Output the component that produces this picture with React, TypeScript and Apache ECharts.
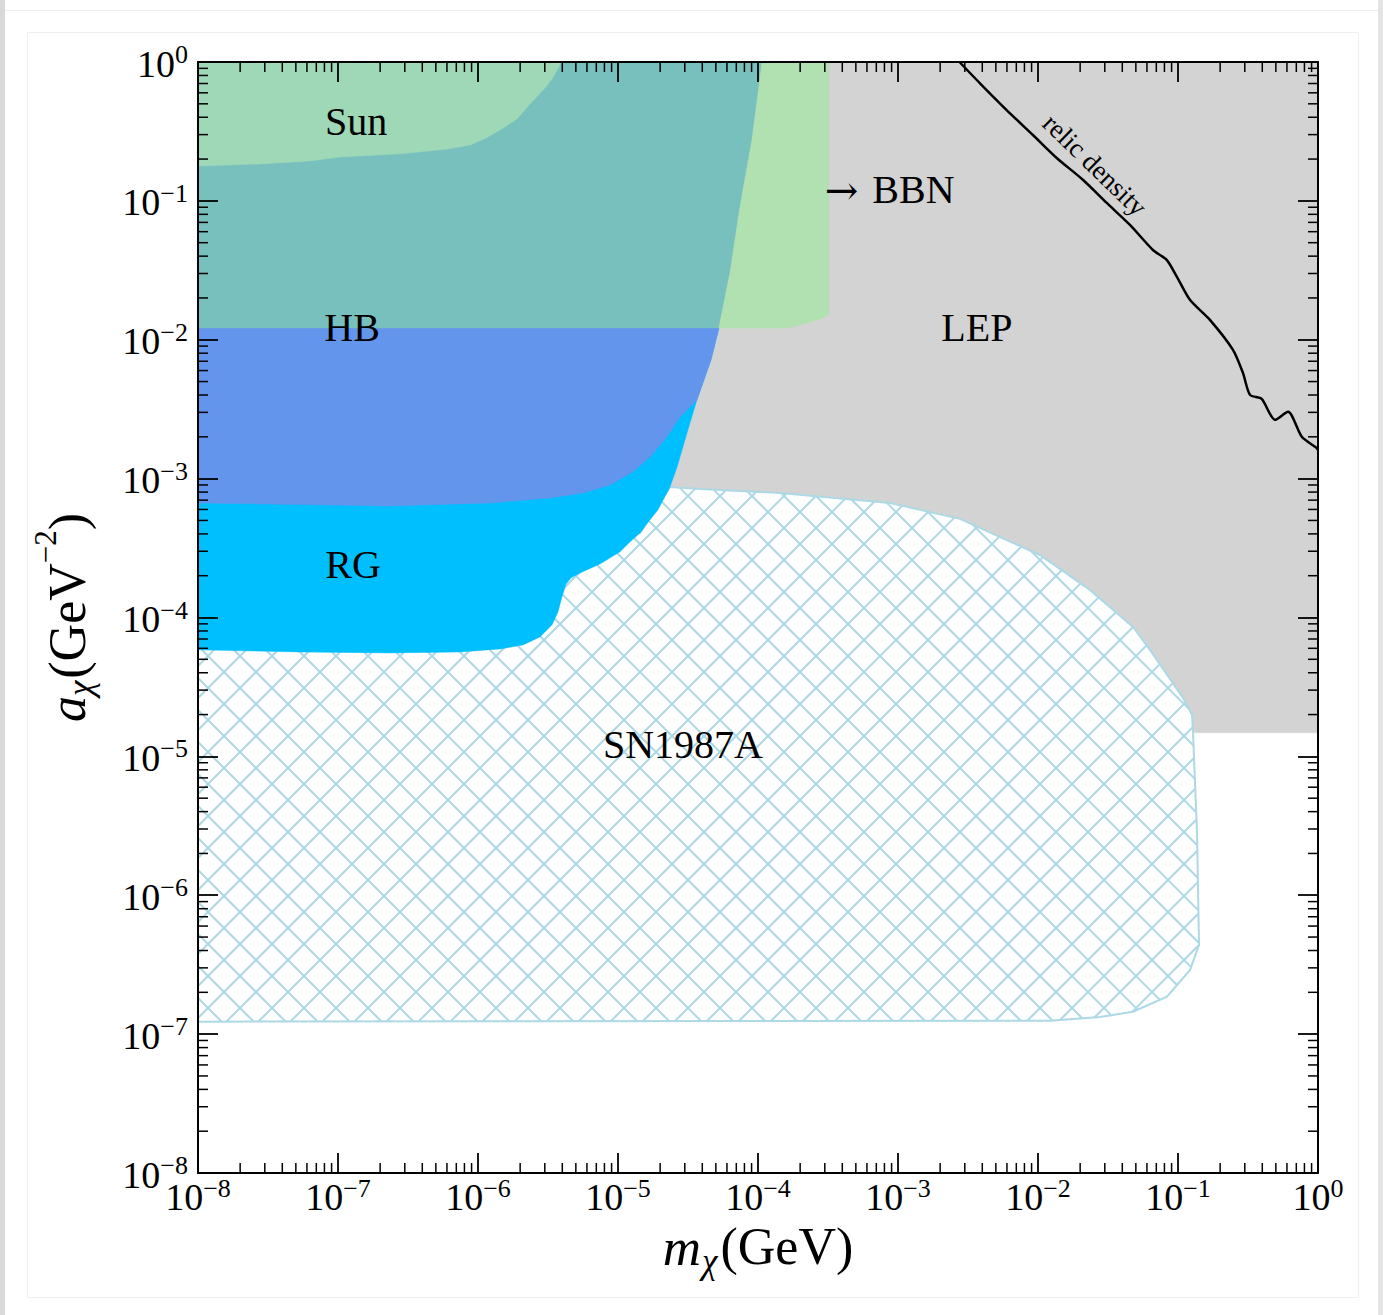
import React, { useEffect, useRef } from "react";
import * as echarts from "echarts";

const FONT = '"Liberation Serif", "DejaVu Serif", serif';

// axis range (log10 decades)
const AXIS_MIN = 1e-8;
const AXIS_MAX = 1;
const minorMultipliers = [2, 3, 4, 5, 6, 7, 8, 9];
const minorDecades = [-8, -7, -6, -5, -4, -3, -2, -1];

// regions: [m_chi (GeV), a_chi (GeV^-2)]
const lepRegion: number[][] = [
  [1.07e-4, 1], [9.06e-5, 0.2745], [7.44e-5, 0.0904], [6.31e-5, 0.0303], [5.26e-5, 0.01216],
  [4.61e-5, 7.16e-3], [3.66e-5, 3.69e-3], [3.11e-5, 2.13e-3], [2.64e-5, 1.21e-3], [2.35e-5, 8.71e-4],
  [2.35e-5, 1.48e-5], [1, 1.48e-5], [1, 1],
];

const snRegion: number[][] = [
  [1e-8, 2.6e-4], [3.85e-6, 2.6e-4], [1.44e-5, 4.07e-4], [2.35e-5, 8.71e-4], [3.85e-5, 8.43e-4],
  [1.44e-4, 7.88e-4], [8.77e-4, 6.68e-4], [2.77e-3, 5.13e-4], [1.03e-2, 2.82e-4], [2.35e-2, 1.58e-4],
  [4.77e-2, 8.55e-5], [6.31e-2, 5.85e-5], [0.1086, 2.64e-5], [0.126, 1.99e-5], [0.128, 1.48e-5],
  [0.1367, 2.81e-6], [0.1413, 4.39e-7], [0.122, 2.9e-7], [0.0834, 1.86e-7], [0.0477, 1.45e-7],
  [0.0277, 1.33e-7], [0.0122, 1.25e-7], [1e-8, 1.23e-7],
];

const rgRegion: number[][] = [
  [1e-8, 0.01216], [5.26e-5, 0.01216], [4.61e-5, 7.16e-3], [3.66e-5, 3.69e-3], [3.11e-5, 2.13e-3],
  [2.64e-5, 1.21e-3], [2.35e-5, 8.71e-4], [1.93e-5, 5.96e-4], [1.65e-5, 4.9e-4], [1.44e-5, 4.07e-4],
  [1.2e-5, 3.45e-4], [1.033e-5, 2.97e-4], [7.43e-6, 2.43e-4], [5.35e-6, 2.09e-4], [4.62e-6, 1.93e-4],
  [4.25e-6, 1.74e-4], [3.98e-6, 1.41e-4], [3.73e-6, 1.1e-4], [3.38e-6, 8.85e-5], [2.77e-6, 7.25e-5],
  [2.1e-6, 6.35e-5], [1.44e-6, 5.94e-5], [7.43e-7, 5.65e-5], [2.35e-7, 5.56e-5], [5.35e-8, 5.65e-5],
  [1e-8, 5.85e-5],
];

const hbRegion: number[][] = [
  [1e-8, 0.01216], [5.26e-5, 0.01216], [4.61e-5, 7.16e-3], [3.66e-5, 3.69e-3], [2.77e-5, 2.78e-3],
  [2.24e-5, 2.0e-3], [1.69e-5, 1.43e-3], [1.28e-5, 1.12e-3], [8.77e-6, 9.01e-4], [5.62e-6, 7.89e-4],
  [3.27e-6, 7.26e-4], [1.22e-6, 6.68e-4], [2.35e-7, 6.36e-4], [1e-8, 6.68e-4],
];

const upperRegion: number[][] = [
  [1e-8, 1], [1.07e-4, 1], [9.06e-5, 0.2745], [7.44e-5, 0.0904], [6.31e-5, 0.0303],
  [5.26e-5, 0.01216], [1e-8, 0.01216],
];

const bbnRegion: number[][] = [
  [1.07e-4, 1], [3.2e-4, 1], [3.2e-4, 0.0151], [2.77e-4, 0.0141], [2.24e-4, 0.0132],
  [1.61e-4, 0.01216], [5.26e-5, 0.01216], [6.31e-5, 0.0303], [7.44e-5, 0.0904], [9.06e-5, 0.2745],
];

const sunRegion: number[][] = [
  [1e-8, 1], [1e-8, 0.178], [2.77e-8, 0.1844], [6.31e-8, 0.1937], [1.03e-7, 0.207], [2.77e-7, 0.218],
  [6.1e-7, 0.2364], [8.77e-7, 0.2526], [1.14e-6, 0.2836], [1.44e-6, 0.324], [1.9e-6, 0.389],
  [2.35e-6, 0.4986], [3.01e-6, 0.65], [3.38e-6, 0.755], [3.92e-6, 0.984], [3.98e-6, 1],
];

const relicDensity: number[][] = [
  [2.75e-3, 1], [3.85e-3, 0.7025], [5.97e-3, 0.451], [9.2e-3, 0.298], [1.36e-2, 0.2037],
  [2.1e-2, 0.1414], [3.1e-2, 0.0966], [4.54e-2, 0.0671], [6.62e-2, 0.0443], [8.3e-2, 0.0376],
  [9.8e-2, 0.0285], [0.122, 0.0193], [0.169, 0.0139], [0.247, 8.45e-3], [0.291, 5.77e-3],
  [0.327, 4.01e-3], [0.396, 3.75e-3], [0.493, 2.65e-3], [0.611, 3.03e-3], [0.766, 2.0e-3],
  [0.98, 1.66e-3], [1, 1.6e-3],
];

// region labels
const labelTexts = ["Sun", "HB", "RG", "SN1987A", "LEP", "→ BBN", "relic density"];
const labelM = [1.345e-7, 1.26e-7, 1.28e-7, 2.91e-5, 3.66e-3, 3.0e-4, 2.55e-2];
const labelA = [0.37, 0.01216, 2.39e-4, 1.21e-5, 0.01216, 0.1198, 0.181];
const labelAlign = ["center", "center", "center", "center", "center", "left", "center"];
const labelSize = [40, 40, 40, 40, 40, 40, 27];
const labelRotation = [0, 0, 0, 0, 0, 0, -0.771];

const COLORS = {
  lep: "#d3d3d3",
  rg: "#00bfff",
  hb: "#6495ed",
  upper: "#78c0be",
  bbn: "#b1e0b1",
  sun: "#9fd8b7",
  hatch: "#add8e6",
};

function supText(v: number): string {
  const e = Math.round(Math.log10(v));
  return e < 0 ? "−" + String(-e) : String(e);
}

function polygonSeries(name: string, points: number[][], fill: string, z: number) {
  return {
    type: "custom",
    name,
    coordinateSystem: "cartesian2d",
    xAxisIndex: 0,
    yAxisIndex: 0,
    silent: true,
    z,
    data: points,
    renderItem: (params: any, api: any) => {
      if (params.dataIndex !== 0) return null;
      const pts = points.map((p) => api.coord(p));
      return { type: "polygon", shape: { points: pts }, style: { fill, stroke: fill, lineWidth: 0.5 } };
    },
  };
}

function hatchLines(pts: number[][], spacing: number, family: number) {
  const S = pts.map((p) => p[0] + family * p[1]);
  const R = pts.map((p) => p[0] - family * p[1]);
  const sMin = Math.min(...S);
  const sMax = Math.max(...S);
  const out: any[] = [];
  for (let c = Math.ceil(sMin / spacing) * spacing; c <= sMax; c += spacing) {
    const rs: number[] = [];
    for (let i = 0; i < pts.length; i++) {
      const j = (i + 1) % pts.length;
      const s1 = S[i], s2 = S[j];
      if ((s1 <= c && s2 > c) || (s2 <= c && s1 > c)) {
        const t = (c - s1) / (s2 - s1);
        rs.push(R[i] + t * (R[j] - R[i]));
      }
    }
    rs.sort((a, b) => a - b);
    for (let k = 0; k + 1 < rs.length; k += 2) {
      out.push({
        type: "line",
        shape: {
          x1: (c + rs[k]) / 2,
          y1: (family * (c - rs[k])) / 2,
          x2: (c + rs[k + 1]) / 2,
          y2: (family * (c - rs[k + 1])) / 2,
        },
        style: { stroke: COLORS.hatch, lineWidth: 2 },
      });
    }
  }
  return out;
}

export default function App() {
  const ref = useRef<HTMLDivElement>(null);

  useEffect(() => {
    if (!ref.current) return;
    document.body.style.margin = "0";
    const chart = echarts.init(ref.current, null, { renderer: "svg" });

    const xMinorData: number[][] = [];
    const yMinorData: number[][] = [];
    minorDecades.forEach((d) =>
      minorMultipliers.forEach((m) => {
        xMinorData.push([m * Math.pow(10, d), AXIS_MIN]);
        yMinorData.push([AXIS_MIN, m * Math.pow(10, d)]);
      })
    );

    const tickRich = {
      b: { fontFamily: FONT, fontSize: 38, color: "#000", verticalAlign: "bottom" },
      s: { fontFamily: FONT, fontSize: 26, color: "#000", verticalAlign: "bottom", padding: [0, 0, 15, 0] },
    };

    const axisCommon = {
      type: "log",
      logBase: 10,
      min: AXIS_MIN,
      max: AXIS_MAX,
      splitNumber: 8,
      z: 10,
      splitLine: { show: false },
      minorTick: { show: false },
      minorSplitLine: { show: false },
      axisLine: { show: true, onZero: false, lineStyle: { color: "#000", width: 2 } },
      axisTick: { show: true, inside: true, length: 20, lineStyle: { color: "#000", width: 1.8 } },
    };

    const option: any = {
      animation: false,
      backgroundColor: "#fff",
      grid: { left: 198, top: 62, width: 1120, height: 1111, containLabel: false, outerBoundsMode: "none" },
      xAxis: [
        {
          ...axisCommon,
          position: "bottom",
          name: "{i|m}{sub|χ}{n|(GeV)}",
          nameLocation: "middle",
          nameGap: 42,
          nameTextStyle: {
            rich: {
              i: { fontFamily: FONT, fontStyle: "italic", fontSize: 53, color: "#000", verticalAlign: "top" },
              sub: { fontFamily: FONT, fontStyle: "italic", fontSize: 35, color: "#000", verticalAlign: "top", padding: [23, 0, 0, 1] },
              n: { fontFamily: FONT, fontSize: 52, color: "#000", verticalAlign: "top", padding: [0, 0, 0, 3] },
            },
          },
          axisLabel: {
            show: true,
            margin: 2,
            showMinLabel: true,
            showMaxLabel: true,
            formatter: (v: number) => `{b|10}{s|${supText(v)}}`,
            rich: tickRich,
          },
        },
        {
          ...axisCommon,
          position: "top",
          axisLabel: { show: false },
        },
      ],
      yAxis: [
        {
          ...axisCommon,
          position: "left",
          name: "{i|a}{sub|χ}{n|(GeV}{sup|−2}{n|)}",
          nameLocation: "middle",
          nameRotate: 90,
          nameGap: 100,
          nameTextStyle: {
            rich: {
              i: { fontFamily: FONT, fontStyle: "italic", fontSize: 52, color: "#000", verticalAlign: "top", padding: [18, 0, 0, 0] },
              sub: { fontFamily: FONT, fontStyle: "italic", fontSize: 35, color: "#000", verticalAlign: "top", padding: [40, 2, 0, 0] },
              n: { fontFamily: FONT, fontSize: 52, color: "#000", verticalAlign: "top", padding: [18, 0, 0, 0] },
              sup: { fontFamily: FONT, fontSize: 31, color: "#000", verticalAlign: "top", padding: [7, 0, 0, 0] },
            },
          },
          axisLabel: {
            show: true,
            margin: 10,
            showMinLabel: true,
            showMaxLabel: true,
            formatter: (v: number) => `{b|10}{s|${supText(v)}}`,
            rich: tickRich,
          },
        },
        {
          ...axisCommon,
          position: "right",
          axisLabel: { show: false },
        },
      ],
      graphic: [
        { type: "rect", z: -10, shape: { x: 0, y: 0, width: 5, height: 1315 }, style: { fill: "#d9d9d9" } },
        { type: "rect", z: -10, shape: { x: 1378, y: 0, width: 5, height: 1315 }, style: { fill: "#e4e4e4" } },
        { type: "line", z: -10, shape: { x1: 5, y1: 10.5, x2: 1378, y2: 10.5 }, style: { stroke: "#eeeeee", lineWidth: 1 } },
        { type: "rect", z: -10, shape: { x: 27.5, y: 32.5, width: 1331, height: 1265 }, style: { fill: "none", stroke: "#efefef", lineWidth: 1 } },
      ],
      series: [
        polygonSeries("LEP", lepRegion, COLORS.lep, 1),
        {
          type: "custom",
          name: "SN1987A",
          coordinateSystem: "cartesian2d",
          silent: true,
          z: 2,
          data: snRegion,
          renderItem: (params: any, api: any) => {
            if (params.dataIndex !== 0) return null;
            const pts = snRegion.map((p) => api.coord(p));
            return {
              type: "group",
              children: [
                { type: "polygon", shape: { points: pts }, style: { fill: "#ffffff", stroke: "none" } },
                ...hatchLines(pts, 32, 1),
                ...hatchLines(pts, 32, -1),
                { type: "polygon", shape: { points: pts }, style: { fill: "none", stroke: COLORS.hatch, lineWidth: 2 } },
              ],
            };
          },
        },
        polygonSeries("RG", rgRegion, COLORS.rg, 3),
        polygonSeries("HB", hbRegion, COLORS.hb, 3),
        polygonSeries("HB upper", upperRegion, COLORS.upper, 3),
        polygonSeries("BBN", bbnRegion, COLORS.bbn, 3),
        polygonSeries("Sun", sunRegion, COLORS.sun, 3),
        {
          type: "line",
          name: "relic density",
          data: relicDensity,
          smooth: 0.25,
          showSymbol: false,
          symbol: "none",
          silent: true,
          z: 4,
          lineStyle: { color: "#000", width: 2.5 },
        },
        {
          type: "custom",
          name: "labels",
          coordinateSystem: "cartesian2d",
          silent: true,
          z: 5,
          data: labelM.map((m, i) => [m, labelA[i]]),
          renderItem: (params: any, api: any) => {
            const i = params.dataIndex;
            const p = api.coord([api.value(0), api.value(1)]);
            const raw = labelTexts[i];
            const hasArrow = raw.indexOf("→") === 0;
            return {
              type: "text",
              x: p[0],
              y: p[1],
              rotation: labelRotation[i],
              style: {
                text: hasArrow ? "{a|→} " + raw.slice(2) : raw,
                fill: "#000",
                fontFamily: FONT,
                fontSize: labelSize[i],
                align: labelAlign[i],
                verticalAlign: "middle",
                rich: {
                  a: { fontFamily: '"DejaVu Serif", serif', fontSize: 40, fill: "#000", padding: [0, 4, 0, 0] },
                },
              },
            };
          },
        },
        {
          type: "custom",
          name: "x minor ticks",
          coordinateSystem: "cartesian2d",
          silent: true,
          z: 6,
          data: xMinorData,
          renderItem: (params: any, api: any) => {
            const v = api.value(0);
            const b = api.coord([v, AXIS_MIN]);
            const t = api.coord([v, AXIS_MAX]);
            return {
              type: "group",
              children: [
                { type: "line", shape: { x1: b[0], y1: b[1], x2: b[0], y2: b[1] - 10 }, style: { stroke: "#000", lineWidth: 1.5 } },
                { type: "line", shape: { x1: t[0], y1: t[1], x2: t[0], y2: t[1] + 10 }, style: { stroke: "#000", lineWidth: 1.5 } },
              ],
            };
          },
        },
        {
          type: "custom",
          name: "y minor ticks",
          coordinateSystem: "cartesian2d",
          silent: true,
          z: 6,
          data: yMinorData,
          renderItem: (params: any, api: any) => {
            const v = api.value(1);
            const l = api.coord([AXIS_MIN, v]);
            const r = api.coord([AXIS_MAX, v]);
            return {
              type: "group",
              children: [
                { type: "line", shape: { x1: l[0], y1: l[1], x2: l[0] + 10, y2: l[1] }, style: { stroke: "#000", lineWidth: 1.5 } },
                { type: "line", shape: { x1: r[0], y1: r[1], x2: r[0] - 10, y2: r[1] }, style: { stroke: "#000", lineWidth: 1.5 } },
              ],
            };
          },
        },
      ],
    };

    chart.setOption(option);
    return () => chart.dispose();
  }, []);

  return (
    <div
      ref={ref}
      style={{ position: "absolute", left: 0, top: 0, width: 1383, height: 1315, background: "#fff" }}
    />
  );
}
